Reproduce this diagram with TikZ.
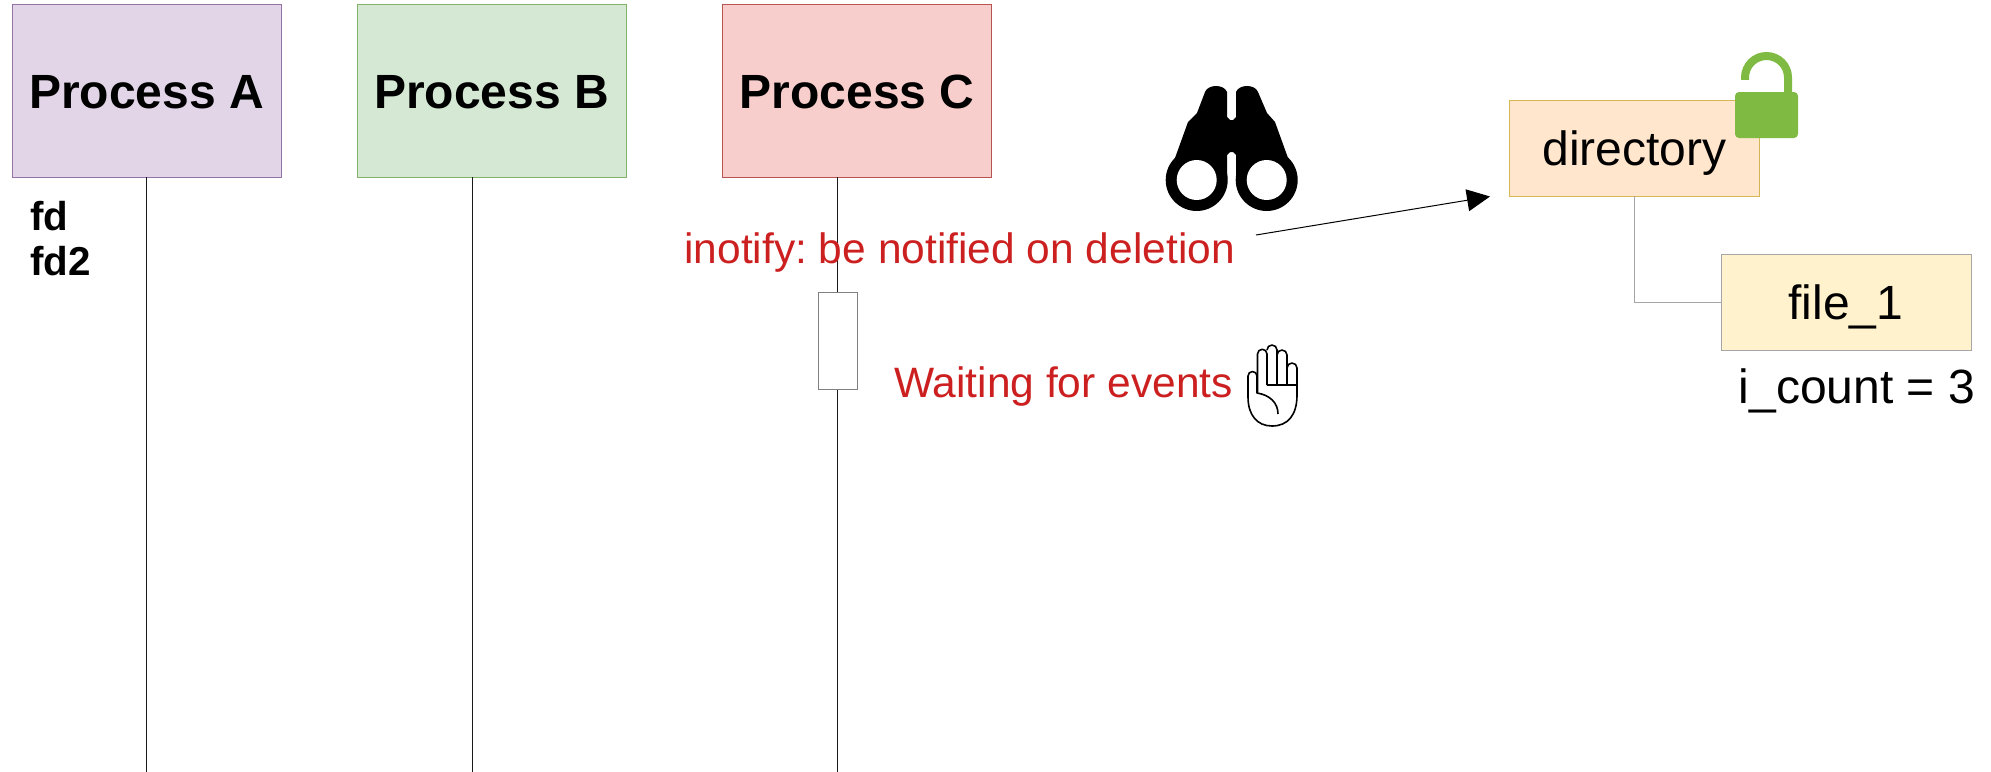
\documentclass[tikz,border=0pt]{standalone}
\usepackage{fontspec}
\setmainfont{Liberation Sans}
\usetikzlibrary{arrows.meta}
\definecolor{procA}{HTML}{E1D5E7}
\definecolor{procAline}{HTML}{9673A6}
\definecolor{procB}{HTML}{D5E8D4}
\definecolor{procBline}{HTML}{82B366}
\definecolor{procC}{HTML}{F8CECC}
\definecolor{procCline}{HTML}{B85450}
\definecolor{dirfill}{HTML}{FFE6CC}
\definecolor{dirline}{HTML}{D6B656}
\definecolor{filefill}{HTML}{FFF2CC}
\definecolor{redtext}{HTML}{CC2020}
\definecolor{lockgreen}{HTML}{7FBA42}
\tikzset{
  process/.style={draw=#1line,fill=#1,line width=0.5pt,minimum width=269bp,minimum height=173bp,inner sep=0pt,text height=35bp,text depth=0bp,font=\fontsize{48.2}{48.2}\selectfont\bfseries},
  lifeline/.style={draw=black!90,line width=1bp},
  entry/.style={draw=#1,line width=0.7pt,minimum width=250bp,minimum height=96bp,inner sep=0pt,text height=34bp,text depth=0bp,font=\fontsize{48.2}{48.2}\selectfont},
  redlabel/.style={text=redtext,inner sep=0pt,anchor=base east,font=\fontsize{42.65}{42.65}\selectfont\frenchspacing},
  fdlabel/.style={inner sep=0pt,anchor=base west,font=\fontsize{40.5}{40.5}\selectfont\bfseries},
}
\begin{document}
\begin{tikzpicture}[x=1bp,y=-1bp]
\useasboundingbox (0,0) rectangle (1991,772);
\node[process=procA] (procA) at (146.5,90.5) {Process A};
\node[process=procB] (procB) at (491.5,90.5) {Process B};
\node[process=procC] (procC) at (857,90.5) {Process C};
\coordinate (endA) at (146.5,772);
\coordinate (topB) at (472.5,177);
\coordinate (endB) at (472.5,772);
\coordinate (topC) at (837.5,177);
\coordinate (endC) at (837.5,772);
\draw[lifeline] (procA.south) -- (endA);
\draw[lifeline] (topB) -- (endB);
\draw[lifeline] (topC) -- (endC);
\node[draw=black!50,fill=white,line width=0.5pt,minimum width=38.5bp,minimum height=96.5bp,inner sep=0pt] (wait) at (837.5,340.5) {};
\node[fdlabel] (fd) at (30,230) {fd};
\node[fdlabel] (fdtwo) at (30,275) {fd2};
\node[redlabel] (inotify) at (1235,263) {inotify: be notified on deletion};
\node[redlabel] (waiting) at (1233,397) {Waiting for events};
\node[entry=dirline,fill=dirfill] (dir) at (1634.5,148) {directory};
\node[entry=black!35,fill=filefill] (file) at (1846,302) {file\_1};
\node[inner sep=0pt,anchor=base,font=\fontsize{48.2}{48.2}\selectfont] (count) at (1857,403) {i\_count = 3};
\coordinate (from) at (1256,235);
\coordinate (to) at (1490,196.5);
\draw[line width=1bp,-{Triangle[length=23bp,width=22bp]}] (from) -- (to);
\draw[draw=black!35,line width=0.8pt] (dir.south) |- (file.west);
% binoculars
\fill (1175,158) -- (1188,122) -- (1197,113) -- (1205,92) .. controls (1208,84) and (1224,84) .. (1227,92) -- (1227,117) -- (1230,120) -- (1233,120) -- (1236,117) -- (1236,92) .. controls (1239,84) and (1255,84) .. (1258,92) -- (1267,113) -- (1275,122) -- (1288,158) -- (1288,180) -- (1236,180) -- (1236,155) -- (1233,152) -- (1230,152) -- (1227,155) -- (1227,180) -- (1175,180) -- cycle;
\fill (1196.7,180) circle[radius=31] (1266.7,180) circle[radius=31];
\fill[white] (1196.7,180) circle[radius=20] (1266.7,180) circle[radius=20];
% hand
\draw[line width=1.6bp,line join=round] (1248,397) -- (1248,376) arc[start angle=180,end angle=360,radius=4.5] -- (1257,393) .. controls (1270,395) and (1278,403) .. (1278,414);
\draw[line width=1.6bp,line join=round] (1257.5,393) -- (1257.5,354) arc[start angle=180,end angle=360,radius=4.75] -- (1267,385);
\draw[line width=1.6bp,line join=round] (1267,350) arc[start angle=180,end angle=360,radius=5] -- (1277,385);
\draw[line width=1.6bp,line join=round] (1277,355) arc[start angle=180,end angle=360,radius=5] -- (1287,385);
\draw[line width=1.6bp,line join=round] (1287,368) arc[start angle=180,end angle=360,radius=5] -- (1297,395) .. controls (1297,415) and (1288,426) .. (1272,426) .. controls (1257,426) and (1248,415) .. (1248,397);
\draw[line width=1.6bp] (1267,385) -- (1297,385);
% lock
\draw[lockgreen,line width=8bp] (1745,80) -- (1745,77.5) arc[start angle=180,end angle=360,radius=21.5] -- (1788,95);
\fill[lockgreen,rounded corners=4bp] (1735,92) rectangle (1798,138);
\end{tikzpicture}
\end{document}
